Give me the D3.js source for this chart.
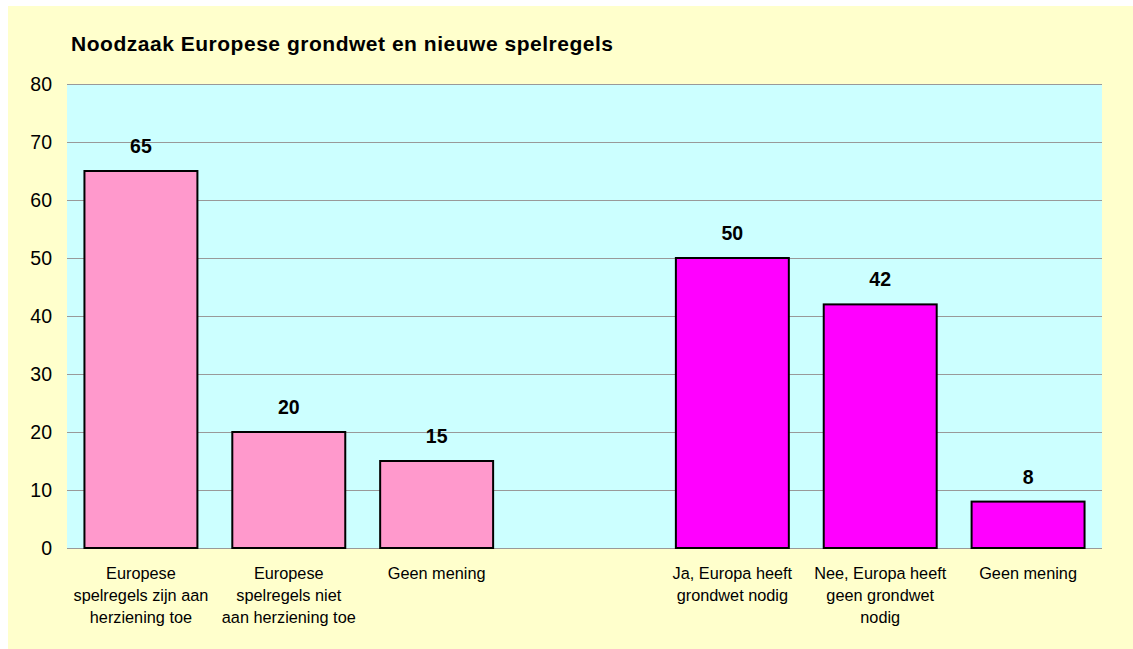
<!DOCTYPE html>
<html>
<head>
<meta charset="utf-8">
<script src="https://cdn.jsdelivr.net/npm/d3@7"></script>
<style>
  html, body { margin: 0; padding: 0; background: #ffffff; }
  svg { display: block; }
  text { font-family: "Liberation Sans", Arial, sans-serif; }
</style>
</head>
<body>
<svg id="chart" width="1133" height="649"></svg>
<script>
const title = "Noodzaak Europese grondwet en nieuwe spelregels";
const categories = [
  "Europese\nspelregels zijn aan\nherziening toe",
  "Europese\nspelregels niet\naan herziening toe",
  "Geen mening",
  "",
  "Ja, Europa heeft\ngrondwet nodig",
  "Nee, Europa heeft\ngeen grondwet\nnodig",
  "Geen mening"
];
const values = [65, 20, 15, null, 50, 42, 8];
const barColors = ["#FF99CC", "#FF99CC", "#FF99CC", null, "#FF00FF", "#FF00FF", "#FF00FF"];
const yTicks = [0, 10, 20, 30, 40, 50, 60, 70, 80];

const svg = d3.select("#chart");
const W = 1133, H = 649;
const plot = { left: 67, right: 1102, top: 84, bottom: 548 };

// panel background
svg.append("rect").attr("x", 8).attr("y", 6).attr("width", W - 8).attr("height", H - 6)
  .attr("fill", "#FFFFCC");

// plot area
svg.append("rect").attr("x", plot.left).attr("y", plot.top)
  .attr("width", plot.right - plot.left).attr("height", plot.bottom - plot.top)
  .attr("fill", "#CCFFFF");

const idx = categories.map((d, i) => i);
const x = d3.scaleBand().domain(idx).range([plot.left, plot.right])
  .paddingInner(0.236).paddingOuter(0.118);
const y = d3.scaleLinear().domain([0, 80]).range([plot.bottom, plot.top]);

// gridlines
svg.append("g").selectAll("line").data(yTicks).join("line")
  .attr("x1", plot.left).attr("x2", plot.right)
  .attr("y1", d => Math.round(y(d)) + 0.5).attr("y2", d => Math.round(y(d)) + 0.5)
  .attr("stroke", "#999999").attr("stroke-width", 1);

// y axis labels
const yAxis = d3.axisLeft(y).tickValues(yTicks).tickSize(0).tickPadding(15);
const gy = svg.append("g").attr("transform", `translate(${plot.left},0)`).call(yAxis);
gy.select(".domain").remove();
gy.selectAll("text").attr("font-size", 19.5).attr("fill", "#000")
  .attr("font-family", '"Liberation Sans", Arial, sans-serif');

// bars
const data = idx.filter(i => values[i] != null);
svg.append("g").selectAll("rect").data(data).join("rect")
  .attr("x", i => x(i))
  .attr("y", i => y(values[i]))
  .attr("width", x.bandwidth())
  .attr("height", i => y(0) - y(values[i]))
  .attr("fill", i => barColors[i])
  .attr("stroke", "#000").attr("stroke-width", 2);

// value labels
svg.append("g").selectAll("text").data(data).join("text")
  .attr("x", i => x(i) + x.bandwidth() / 2)
  .attr("y", i => y(values[i]) - 18)
  .attr("text-anchor", "middle")
  .attr("font-size", 19.5).attr("font-weight", "bold")
  .text(i => values[i]);

// category labels
const cat = svg.append("g").selectAll("text").data(idx).join("text")
  .attr("text-anchor", "middle")
  .attr("font-size", 16.3)
  .attr("fill", "#000");
cat.each(function(i) {
  const lines = categories[i].split("\n").filter(s => s.length);
  d3.select(this).selectAll("tspan").data(lines).join("tspan")
    .attr("x", x(i) + x.bandwidth() / 2)
    .attr("y", (d, k) => 579 + k * 22)
    .text(d => d);
});

// title
svg.append("text").attr("x", 71).attr("y", 51)
  .attr("font-size", 21).attr("font-weight", "bold")
  .attr("letter-spacing", 0.52)
  .text(title);
</script>
</body>
</html>
